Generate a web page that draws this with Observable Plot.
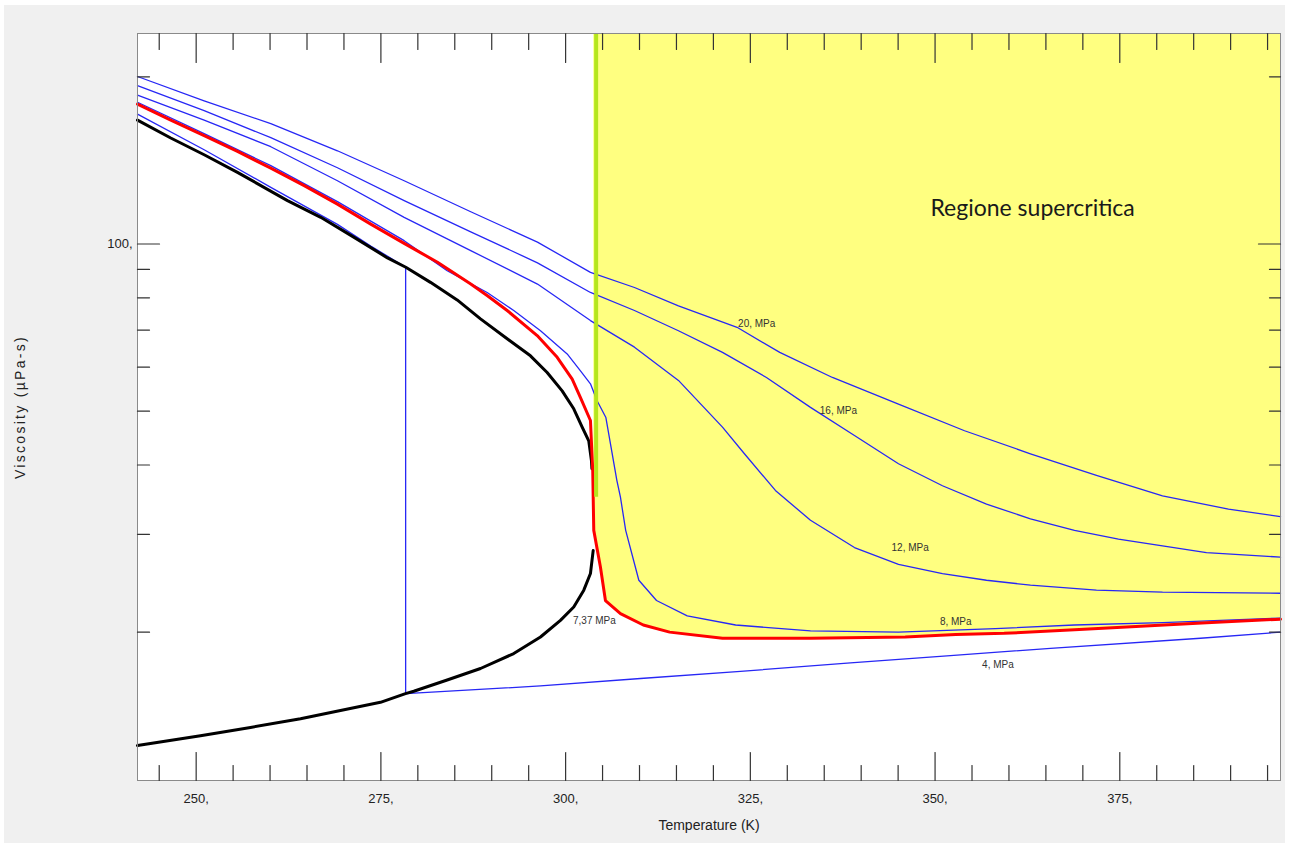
<!DOCTYPE html>
<html>
<head>
<meta charset="utf-8">
<script src="https://cdn.jsdelivr.net/npm/d3@7"></script>
<script src="https://cdn.jsdelivr.net/npm/@observablehq/plot@0.6"></script>
<style>
html,body{margin:0;padding:0;background:#ffffff;}
#chart{position:absolute;left:4px;top:5px;}
</style>
</head>
<body>
<div id="chart"></div>
<script>
// ---- Data: temperature (K) and viscosity (µPa·s) ----
const satLiqT = [242.06, 246.56, 251.08, 255.59, 262.36, 266.86, 271.38, 275.89, 278.37, 281.71, 285.32, 288.48, 292.09, 295.24, 297.50, 299.53, 301.10, 302.24, 303.13, 303.50, 303.56];
const satLiqV = [167.2, 155.2, 144.8, 134.6, 119.7, 111.7, 102.8, 94.4, 90.8, 85.3, 79.3, 73.3, 67.5, 62.9, 58.7, 54.4, 50.5, 46.8, 44.2, 40.7, 39.4];

const satVapT = [242.06, 250.58, 257.35, 264.12, 274.94, 278.33, 279.45, 283.97, 288.48, 292.98, 296.60, 299.30, 301.10, 302.46, 303.36, 303.73];
const satVapV = [12.5, 13.02, 13.47, 13.96, 14.95, 15.5, 15.65, 16.4, 17.2, 18.3, 19.6, 21.0, 22.2, 23.8, 25.5, 28.05];

const p737T = [242.06, 246.56, 251.08, 255.59, 260.10, 264.62, 269.12, 273.63, 278.15, 282.66, 287.16, 289.42, 292.09, 296.15, 298.86, 300.89, 302.01, 303.36, 303.67, 303.81, 304.71, 305.39, 307.42, 310.51, 314.08, 321.23, 333.14, 345.96, 352.80, 359.35, 368.87, 377.83, 386.76, 396.75];
const p737V = [178.6, 167.2, 156.7, 146.8, 137.0, 127.4, 118.0, 108.6, 100.25, 92.7, 84.7, 80.7, 75.9, 68.4, 62.5, 57.1, 52.9, 48.1, 39.1, 30.5, 26.2, 22.8, 21.6, 20.6, 20.0, 19.5, 19.5, 19.6, 19.8, 19.9, 20.2, 20.5, 20.8, 21.1];

const p4T = [242.06, 251.08, 260.10, 269.12, 273.63, 278.35, 278.35, 296.60, 310.13, 323.67, 338.55, 352.08, 365.62, 385.92, 396.75];
const p4V = [171.4, 147.8, 126.5, 108.5, 99.2, 90.8, 15.5, 16.0, 16.5, 17.0, 17.6, 18.15, 18.7, 19.5, 20.0];

const p8T = [242.06, 251.08, 260.10, 269.12, 278.15, 283.97, 289.38, 292.98, 296.60, 300.21, 302.01, 303.36, 304.26, 305.45, 306.94, 307.42, 308.13, 309.91, 312.30, 316.46, 323.01, 333.14, 345.05, 358.17, 368.87, 380.78, 396.75];
const p8V = [180.0, 158.0, 138.4, 119.2, 101.4, 89.5, 81.8, 75.9, 69.8, 63.4, 59.1, 56.0, 52.2, 48.7, 37.5, 35.0, 30.5, 24.8, 22.8, 21.4, 20.6, 20.1, 20.0, 20.3, 20.6, 20.8, 21.2];

const p12T = [242.06, 251.08, 260.10, 269.12, 278.15, 287.16, 296.19, 303.36, 309.32, 315.27, 321.23, 324.20, 328.39, 333.14, 339.09, 345.05, 351.00, 356.96, 362.91, 371.84, 380.78, 396.75];
const p12V = [185.4, 167.2, 149.7, 130.0, 111.7, 97.3, 84.7, 72.8, 65.2, 56.8, 46.8, 41.9, 36.0, 31.8, 28.4, 26.5, 25.5, 24.8, 24.3, 23.8, 23.6, 23.5];

const p16T = [242.06, 251.08, 260.10, 269.12, 278.15, 287.16, 296.19, 303.36, 309.32, 315.27, 321.23, 327.18, 333.14, 339.09, 345.05, 351.00, 356.96, 362.91, 368.87, 374.82, 380.78, 386.73, 396.75];
const p16V = [192.8, 173.8, 155.4, 137.2, 119.7, 105.2, 92.5, 81.8, 75.9, 69.8, 63.8, 57.5, 50.8, 45.2, 40.2, 36.7, 34.0, 32.0, 30.5, 29.4, 28.6, 27.8, 27.3];

const p20T = [242.06, 251.08, 260.10, 269.12, 278.15, 287.16, 296.19, 303.36, 309.32, 315.27, 323.20, 328.98, 336.11, 345.05, 353.99, 362.91, 371.84, 380.78, 389.71, 396.75];
const p20V = [200.3, 181.1, 164.7, 147.2, 130.0, 114.3, 100.8, 88.9, 83.5, 77.4, 70.8, 63.8, 57.5, 51.5, 46.1, 41.9, 38.3, 35.2, 33.3, 32.3];

const isobarLabels = ["20, MPa", "16, MPa", "12, MPa", "8, MPa", "4, MPa", "7,37 MPa"];
const isobarLabelT = [325.86, 336.92, 346.63, 352.80, 358.51, 303.90];
const isobarLabelV = [71.9, 50.1, 28.4, 20.9, 17.5, 21.0];

const regionLabel = ["Regione supercritica"];
const regionLabelT = [363.2];
const regionLabelV = [115.7];

const criticalT = [304.13];
const criticalLineV = [35.0];

const xDomain = [242.06, 396.75];
const yDomain = [10.81, 239.4];
const xMajor = [250, 275, 300, 325, 350, 375];
const xMinor = [245, 255, 260, 265, 270, 280, 285, 290, 295, 305, 310, 315, 320, 330, 335, 340, 345, 355, 360, 365, 370, 380, 385, 390, 395];
const yMajor = [100];
const yMinor = [20, 30, 40, 50, 60, 70, 80, 90, 200];

const xTitle = "Temperature (K)";
const yTitle = "Viscosity (\u00b5Pa-s)";

// ---- Build ----
const rows = (T, V) => T.map((t, i) => ({T: t, V: V[i]}));
const red = rows(p737T, p737V);
const superRed = red.filter(d => d.T >= 303.8);
const yTop = yDomain[1];

const blue = "#2727f5";
const tickStroke = "#333333";

// inward tick shapes for the vector mark
const tickUp = {draw(c, l) { c.moveTo(0, 0); c.lineTo(0, -l); }};
const tickDown = {draw(c, l) { c.moveTo(0, 0); c.lineTo(0, l); }};
const tickRight = {draw(c, l) { c.moveTo(0, 0); c.lineTo(l, 0); }};
const tickLeft = {draw(c, l) { c.moveTo(0, 0); c.lineTo(-l, 0); }};
const tickOpts = {anchor: "start", stroke: tickStroke, strokeWidth: 1.2};

const chart = Plot.plot({
  width: 1281,
  height: 838,
  marginLeft: 133,
  marginRight: 5,
  marginTop: 28,
  marginBottom: 63,
  style: {background: "#f0f0f0", fontFamily: "'Liberation Sans', Arial, sans-serif", color: "#222"},
  x: {domain: xDomain},
  y: {type: "log", domain: yDomain},
  marks: [
    Plot.frame({fill: "white", stroke: "none"}),
    Plot.areaY(superRed, {x: "T", y1: "V", y2: () => yTop, fill: "#ffff80"}),
    Plot.line(rows(p4T, p4V), {x: "T", y: "V", stroke: blue, strokeWidth: 1.3}),
    Plot.line(rows(p8T, p8V), {x: "T", y: "V", stroke: blue, strokeWidth: 1.3}),
    Plot.line(rows(p12T, p12V), {x: "T", y: "V", stroke: blue, strokeWidth: 1.3}),
    Plot.line(rows(p16T, p16V), {x: "T", y: "V", stroke: blue, strokeWidth: 1.3}),
    Plot.line(rows(p20T, p20V), {x: "T", y: "V", stroke: blue, strokeWidth: 1.3}),
    Plot.line(rows(satLiqT, satLiqV), {x: "T", y: "V", stroke: "black", strokeWidth: 3}),
    Plot.line(rows(satVapT, satVapV), {x: "T", y: "V", stroke: "black", strokeWidth: 3}),
    Plot.line(red, {x: "T", y: "V", stroke: "#ff0000", strokeWidth: 3}),
    Plot.ruleX(criticalT, {x: d => d, y1: (d, i) => criticalLineV[i], y2: () => yTop, stroke: "#b5e61d", strokeWidth: 4}),
    Plot.text(isobarLabels, {text: d => d, x: (d, i) => isobarLabelT[i], y: (d, i) => isobarLabelV[i], fontSize: 10, fill: "#333"}),
    Plot.text(regionLabel, {text: d => d, x: (d, i) => regionLabelT[i], y: (d, i) => regionLabelV[i], fontSize: 23, fontFamily: "Lato, 'Open Sans', sans-serif", fill: "#1a1a1a"}),
    Plot.frame({stroke: "#8a8a8a"}),
    // inward ticks on all four sides
    Plot.vectorX(xMajor, {x: d => d, frameAnchor: "bottom", length: 28, shape: tickUp, ...tickOpts}),
    Plot.vectorX(xMinor, {x: d => d, frameAnchor: "bottom", length: 15, shape: tickUp, ...tickOpts}),
    Plot.vectorX(xMajor, {x: d => d, frameAnchor: "top", length: 29, shape: tickDown, ...tickOpts}),
    Plot.vectorX(xMinor, {x: d => d, frameAnchor: "top", length: 16, shape: tickDown, ...tickOpts}),
    Plot.vectorY(yMajor, {y: d => d, frameAnchor: "left", length: 22, shape: tickRight, ...tickOpts}),
    Plot.vectorY(yMinor, {y: d => d, frameAnchor: "left", length: 12, shape: tickRight, ...tickOpts}),
    Plot.vectorY(yMajor, {y: d => d, frameAnchor: "right", length: 22, shape: tickLeft, ...tickOpts}),
    Plot.vectorY(yMinor, {y: d => d, frameAnchor: "right", length: 11, shape: tickLeft, ...tickOpts}),
    Plot.axisX(xMajor, {anchor: "bottom", tickSize: 0, tickPadding: 13, tickFormat: d => d + ",", fontSize: 13, fill: "#222", label: null}),
    Plot.axisY(yMajor, {anchor: "left", tickSize: 0, tickPadding: 5, tickFormat: d => d + ",", fontSize: 13, fill: "#222", label: null}),
    Plot.text([xTitle], {text: d => d, frameAnchor: "bottom", lineAnchor: "middle", dy: 45, fontSize: 14, fill: "#222"}),
    Plot.text([yTitle], {text: d => d, frameAnchor: "left", textAnchor: "middle", lineAnchor: "middle", dx: -117, rotate: -90, fontSize: 14, fill: "#222"})
  ]
});

d3.select(chart).selectAll("text").filter(function() { return this.textContent === yTitle; }).attr("letter-spacing", "2.3px");
document.getElementById("chart").appendChild(chart);
</script>
</body>
</html>
